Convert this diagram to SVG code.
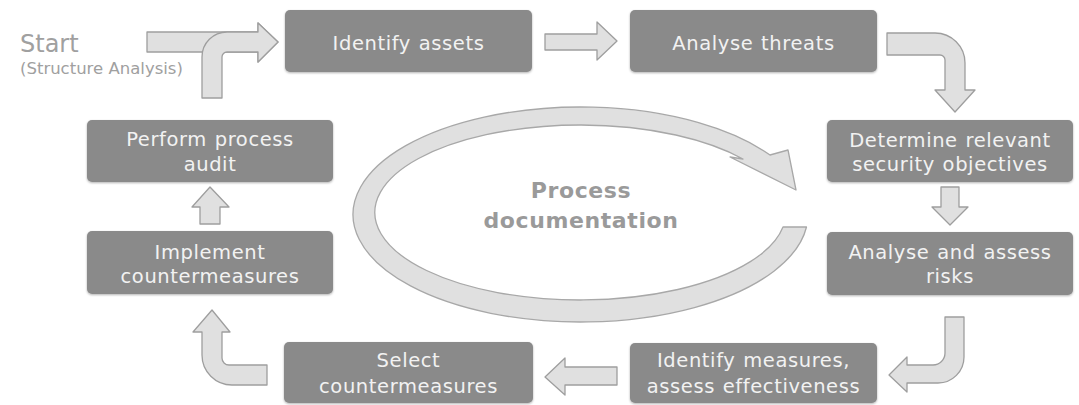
<svg xmlns="http://www.w3.org/2000/svg" width="1079" height="405" viewBox="0 0 1079 405">
  <defs>
    <filter id="sh" x="-5%" y="-10%" width="110%" height="125%">
      <feDropShadow dx="0" dy="1" stdDeviation="1.2" flood-color="#000" flood-opacity="0.3"/>
    </filter>
    <style>
      .box { fill: #8a8a8a; filter: url(#sh); }
      .lbl { font-family: "DejaVu Sans", Verdana, sans-serif; font-size: 19.5px; fill: #f2f2f2; text-anchor: middle; letter-spacing: 0.6px; word-spacing: 1px; }
      .arr { fill: #e0e0e0; stroke: #9e9e9e; stroke-width: 1.3; stroke-linejoin: round; }
      .ring { fill: #e0e0e0; stroke: #a8a8a8; stroke-width: 1.3; stroke-linejoin: round; }
      .start { font-family: "DejaVu Sans", Verdana, sans-serif; fill: #a0a0a0; }
      .doc { font-family: "DejaVu Sans", Verdana, sans-serif; font-weight: bold; font-size: 22px; fill: #9a9a9a; text-anchor: middle; letter-spacing: 0.6px; }
    </style>
  </defs>
  <rect width="1079" height="405" fill="#ffffff"/>

  <g id="start-label">
    <text class="start" x="20" y="52" font-size="24">Start</text>
    <text class="start" x="20" y="74" font-size="16.5" fill="#aaaaaa">(Structure Analysis)</text>
  </g>

  <g id="process-documentation">
    <path class="ring" d="M806.5,227 A227.5 107.5 0 1 1 770,155 L788,150 L796,190 L730,157 L743,159 A205.5 87.5 0 1 0 783,227 Z"/>
    <text class="doc" x="581" y="198">Process</text>
    <text class="doc" x="581" y="228">documentation</text>
  </g>

  <g id="connectors">
    <!-- start arrows -->
    <path class="arr" d="M147,32 L258,32 L258,23 L278,42 L258,62 L258,52 L147,52 Z"/>
    <path class="arr" d="M202,98 L202,57 A25 25 0 0 1 227,32 L258,32 L258,23 L278,42 L258,62 L258,52 L227,52 A5 5 0 0 0 222,57 L222,98 Z"/>
    <!-- identify assets -> analyse threats -->
    <path class="arr" d="M545,34 L597,34 L597,22 L617,41 L597,60 L597,50 L545,50 Z"/>
    <!-- analyse threats -> determine -->
    <path class="arr" d="M887,33 L935,33 A30 30 0 0 1 965,63 L965,90 L975,90 L955,112 L935,90 L945,90 L945,60 A5 5 0 0 0 940,55 L887,55 Z"/>
    <!-- determine -> analyse risks -->
    <path class="arr" d="M941,187 L959,187 L959,207 L968,207 L950,225 L932,207 L941,207 Z"/>
    <!-- analyse risks -> identify measures -->
    <path class="arr" d="M945,317 L964,317 L964,357 A26 26 0 0 1 938,383 L907,383 L907,392 L889,375 L907,357 L907,365 L933,365 A12 12 0 0 0 945,353 Z"/>
    <!-- identify measures -> select -->
    <path class="arr" d="M617,367 L565,367 L565,358 L545,377 L565,395 L565,385 L617,385 Z"/>
    <!-- select -> implement -->
    <path class="arr" d="M267,365 L229,365 A7 7 0 0 1 222,358 L222,332 L230,332 L212,310 L193,332 L202,332 L202,355 A30 30 0 0 0 232,385 L267,385 Z"/>
    <!-- implement -> perform audit -->
    <path class="arr" d="M200,224 L200,207 L192,207 L210,187 L229,207 L220,207 L220,224 Z"/>
  </g>

  <g id="identify-assets">
    <rect class="box" x="285" y="10" width="247" height="62" rx="5"/>
    <text class="lbl" x="408.5" y="50">Identify assets</text>
  </g>
  <g id="analyse-threats">
    <rect class="box" x="630" y="10" width="247" height="62" rx="5"/>
    <text class="lbl" x="753.5" y="50">Analyse threats</text>
  </g>
  <g id="determine-objectives">
    <rect class="box" x="827" y="120" width="246" height="62" rx="5"/>
    <text class="lbl" x="950" y="147">Determine relevant</text>
    <text class="lbl" x="950" y="171">security objectives</text>
  </g>
  <g id="analyse-risks">
    <rect class="box" x="827" y="232" width="246" height="63" rx="5"/>
    <text class="lbl" x="950" y="259">Analyse and assess</text>
    <text class="lbl" x="950" y="283">risks</text>
  </g>
  <g id="identify-measures">
    <rect class="box" x="630" y="343" width="247" height="60" rx="5"/>
    <text class="lbl" x="753.5" y="367">Identify measures,</text>
    <text class="lbl" x="753.5" y="393">assess effectiveness</text>
  </g>
  <g id="select-countermeasures">
    <rect class="box" x="284" y="342" width="249" height="61" rx="5"/>
    <text class="lbl" x="408.5" y="367">Select</text>
    <text class="lbl" x="408.5" y="393">countermeasures</text>
  </g>
  <g id="implement-countermeasures">
    <rect class="box" x="87" y="231" width="246" height="63" rx="5"/>
    <text class="lbl" x="210" y="259">Implement</text>
    <text class="lbl" x="210" y="283">countermeasures</text>
  </g>
  <g id="perform-audit">
    <rect class="box" x="87" y="120" width="246" height="62" rx="5"/>
    <text class="lbl" x="210" y="146">Perform process</text>
    <text class="lbl" x="210" y="171">audit</text>
  </g>
</svg>
